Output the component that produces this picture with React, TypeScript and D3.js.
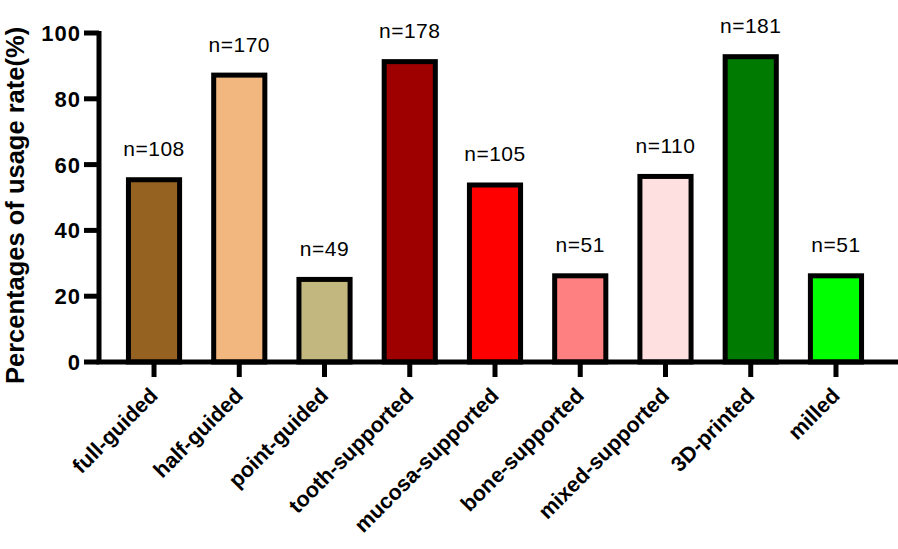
import React from "react";
import * as d3 from "d3";

const categories = [
  "full-guided",
  "half-guided",
  "point-guided",
  "tooth-supported",
  "mucosa-supported",
  "bone-supported",
  "mixed-supported",
  "3D-printed",
  "milled",
];
const percentages = [55.4, 87.2, 25.1, 91.3, 53.8, 26.2, 56.4, 92.8, 26.2];
const counts = [108, 170, 49, 178, 105, 51, 110, 181, 51];
const colors = [
  "#956221",
  "#f1b77f",
  "#c1b77f",
  "#9e0000",
  "#ff0000",
  "#ff8080",
  "#ffe0e0",
  "#007a00",
  "#00ff00",
];
const yTicks = [0, 20, 40, 60, 80, 100];

const W = 898;
const H = 549;
const FONT = "'Liberation Sans', Arial, Helvetica, sans-serif";

export default function App() {
  const axisX = 99;
  const axisY = 362;

  // centres at 154 .. 836, step ~85.25
  const x = d3
    .scaleBand<string>()
    .domain(categories)
    .range([111.4, 878.6])
    .paddingInner(0.4)
    .paddingOuter(0.2);
  const y = d3.scaleLinear().domain([0, 100]).range([axisY, 33]);

  return (
    <svg
      width={W}
      height={H}
      style={{ position: "absolute", left: 0, top: 0, background: "white" }}
      fontFamily={FONT}
    >
      {/* bars */}
      {categories.map((c, i) => (
        <rect
          key={c}
          x={x(c)}
          y={y(percentages[i])}
          width={x.bandwidth()}
          height={axisY - y(percentages[i])}
          fill={colors[i]}
          stroke="#000"
          strokeWidth={5}
        />
      ))}

      {/* n labels */}
      {categories.map((c, i) => (
        <text
          key={c}
          x={(x(c) ?? 0) + x.bandwidth() / 2}
          y={y(percentages[i]) - 23.5}
          textAnchor="middle"
          fontSize={21}
          letterSpacing={0.5}
          fill="#000"
        >
          {"n=" + counts[i]}
        </text>
      ))}

      {/* y axis */}
      <line x1={axisX} x2={axisX} y1={y(100) - 2} y2={axisY} stroke="#000" strokeWidth={5} />
      {yTicks.map((t) => (
        <g key={t}>
          <line x1={axisX - 15} x2={axisX} y1={y(t)} y2={y(t)} stroke="#000" strokeWidth={5} />
          <text
            x={axisX - 18}
            y={y(t)}
            dy="0.36em"
            textAnchor="end"
            fontSize={22}
            letterSpacing={1}
            fontWeight="bold"
          >
            {t}
          </text>
        </g>
      ))}
      <text
        transform={`translate(24, 384) rotate(-90)`}
        textAnchor="start"
        fontSize={25.5}
        fontWeight="bold"
      >
        Percentages of usage rate(%)
      </text>

      {/* x axis */}
      <line x1={axisX - 2.5} x2={W} y1={axisY} y2={axisY} stroke="#000" strokeWidth={5} />
      {categories.map((c) => {
        const cx = (x(c) ?? 0) + x.bandwidth() / 2;
        return (
          <g key={c}>
            <line x1={cx} x2={cx} y1={axisY} y2={axisY + 15} stroke="#000" strokeWidth={5} />
            <text
              transform={`translate(${cx + 5}, ${axisY + 35}) rotate(-45)`}
              textAnchor="end"
              fontSize={21.5}
              fontWeight="bold"
            >
              {c}
            </text>
          </g>
        );
      })}
    </svg>
  );
}
